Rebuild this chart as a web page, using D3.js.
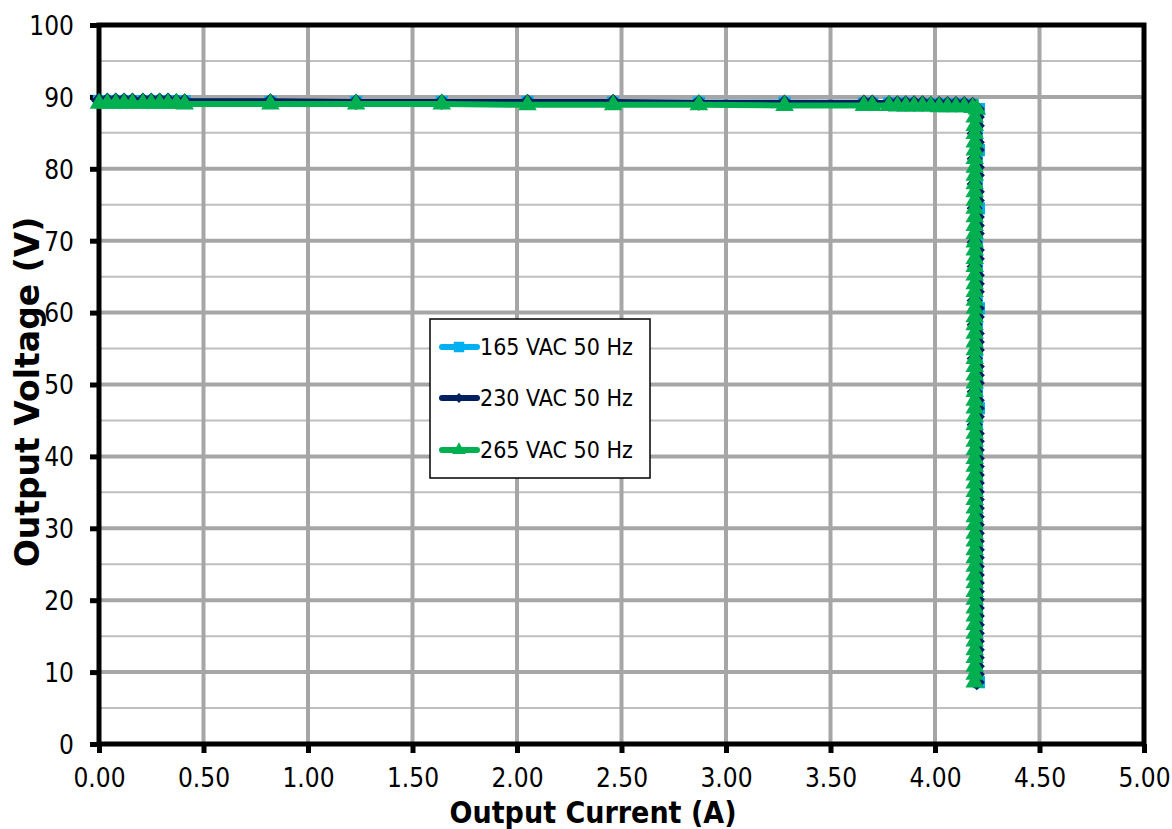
<!DOCTYPE html>
<html>
<head>
<meta charset="utf-8">
<script src="https://cdn.jsdelivr.net/npm/d3@7"></script>
<style>
  body { margin: 0; background: #fff; }
  svg { display: block; }
  text { font-family: "DejaVu Sans Condensed", "DejaVu Sans", sans-serif; fill: #000; }
</style>
</head>
<body>
<div id="chart"></div>
<script>
// Series names
var seriesNames = ["165 VAC 50 Hz", "230 VAC 50 Hz", "265 VAC 50 Hz"];

// horizontal (constant voltage) part: shared current steps (A)
var hCurrent = [0.00, 0.04, 0.08, 0.12, 0.16, 0.21, 0.25, 0.29, 0.33, 0.37, 0.41,
  0.82, 1.23, 1.64, 2.05, 2.46, 2.87, 3.28, 3.66, 3.70, 3.78, 3.82, 3.86, 3.90,
  3.94, 3.98, 4.02, 4.06, 4.10, 4.14, 4.18];

var hVolt165 = [89.4, 89.4, 89.4, 89.4, 89.4, 89.4, 89.4, 89.4, 89.4, 89.4, 89.4,
  89.3, 89.3, 89.3, 89.3, 89.2, 89.2, 89.2, 89.1, 89.1, 89.1, 89.1, 89.1, 89.0,
  89.0, 89.0, 89.0, 89.0, 89.0, 88.9, 88.9];
var hVolt230 = [89.5, 89.5, 89.5, 89.5, 89.5, 89.5, 89.5, 89.5, 89.5, 89.4, 89.4,
  89.4, 89.3, 89.3, 89.3, 89.3, 89.2, 89.2, 89.2, 89.2, 89.1, 89.1, 89.1, 89.1,
  89.1, 89.0, 89.0, 89.0, 89.0, 89.0, 88.9];
var hVolt265 = [89.1, 89.1, 89.1, 89.1, 89.1, 89.1, 89.1, 89.1, 89.1, 89.1, 89.0,
  89.0, 89.0, 89.0, 88.9, 88.9, 88.9, 88.8, 88.8, 88.8, 88.8, 88.7, 88.7, 88.7,
  88.7, 88.7, 88.6, 88.6, 88.6, 88.6, 88.5];

// vertical (constant current) part: shared voltage steps (V)
var vVolt = [88.3, 87.2, 86.0, 84.9, 83.7, 82.6, 81.4, 80.2, 79.1, 77.9,
  76.8, 75.6, 74.5, 73.3, 72.1, 71.0, 69.8, 68.7, 67.5, 66.4,
  65.2, 64.0, 62.9, 61.7, 60.6, 59.4, 58.3, 57.1, 55.9, 54.8,
  53.6, 52.5, 51.3, 50.2, 49.0, 47.8, 46.7, 45.5, 44.4, 43.2,
  42.1, 40.9, 39.7, 38.6, 37.4, 36.3, 35.1, 34.0, 32.8, 31.6,
  30.5, 29.3, 28.2, 27.0, 25.9, 24.7, 23.5, 22.4, 21.2, 20.1,
  18.9, 17.8, 16.6, 15.4, 14.3, 13.1, 12.0, 10.8, 9.7, 8.6];

var vCur165 = [4.21, 4.20, 4.20, 4.20, 4.20, 4.21, 4.20, 4.20, 4.20, 4.20,
  4.20, 4.20, 4.21, 4.20, 4.20, 4.20, 4.20, 4.20, 4.20, 4.20,
  4.20, 4.20, 4.20, 4.20, 4.21, 4.20, 4.20, 4.20, 4.20, 4.20,
  4.20, 4.20, 4.20, 4.20, 4.20, 4.20, 4.21, 4.20, 4.20, 4.20,
  4.20, 4.20, 4.20, 4.20, 4.20, 4.20, 4.20, 4.20, 4.20, 4.20,
  4.20, 4.20, 4.20, 4.20, 4.20, 4.20, 4.20, 4.20, 4.20, 4.20,
  4.20, 4.20, 4.20, 4.20, 4.20, 4.20, 4.20, 4.20, 4.20, 4.21];
var vCur230 = [4.20, 4.20, 4.20, 4.19, 4.20, 4.20, 4.19, 4.20, 4.20, 4.19,
  4.20, 4.20, 4.19, 4.20, 4.20, 4.20, 4.19, 4.20, 4.20, 4.19,
  4.20, 4.20, 4.20, 4.19, 4.20, 4.20, 4.19, 4.20, 4.20, 4.20,
  4.19, 4.20, 4.20, 4.20, 4.19, 4.20, 4.20, 4.20, 4.19, 4.20,
  4.20, 4.20, 4.20, 4.20, 4.20, 4.20, 4.20, 4.20, 4.20, 4.20,
  4.20, 4.20, 4.20, 4.20, 4.20, 4.20, 4.20, 4.20, 4.20, 4.20,
  4.20, 4.20, 4.20, 4.20, 4.20, 4.20, 4.20, 4.20, 4.20, 4.20];
var vCur265 = [4.20, 4.19, 4.19, 4.19, 4.19, 4.19, 4.19, 4.19, 4.19, 4.19,
  4.19, 4.19, 4.19, 4.19, 4.19, 4.19, 4.19, 4.19, 4.19, 4.19,
  4.19, 4.19, 4.19, 4.19, 4.19, 4.19, 4.19, 4.19, 4.19, 4.19,
  4.19, 4.19, 4.19, 4.19, 4.19, 4.19, 4.19, 4.19, 4.19, 4.19,
  4.19, 4.19, 4.19, 4.19, 4.19, 4.19, 4.19, 4.19, 4.19, 4.19,
  4.19, 4.19, 4.19, 4.19, 4.19, 4.19, 4.19, 4.19, 4.19, 4.19,
  4.19, 4.19, 4.19, 4.19, 4.19, 4.19, 4.19, 4.19, 4.19, 4.19];

// axis ticks
var xTicks = [0, 0.5, 1, 1.5, 2, 2.5, 3, 3.5, 4, 4.5, 5];
var yTicks = [0, 10, 20, 30, 40, 50, 60, 70, 80, 90, 100];
var yMinor = [5, 15, 25, 35, 45, 55, 65, 75, 85, 95];

var width = 1172;
var height = 829;

// plot area
var plotLeft = 99, plotRight = 1144, plotTop = 25, plotBottom = 744;

var svg = d3.select("#chart")
  .append("svg")
  .attr("width", width)
  .attr("height", height);

var xScale = d3.scaleLinear().domain([0, 5]).range([plotLeft, plotRight]);
var yScale = d3.scaleLinear().domain([0, 100]).range([plotBottom, plotTop]);

// Excel style diamond (square turned 45 degrees)
var squareDiamond = {
  draw: function (context, size) {
    var r = Math.sqrt(size / 2);
    context.moveTo(0, -r);
    context.lineTo(r, 0);
    context.lineTo(0, r);
    context.lineTo(-r, 0);
    context.closePath();
  }
};

// build point lists
function makePoints(hv, vc) {
  var pts = [];
  hCurrent.forEach(function (c, i) { pts.push({ x: c, y: hv[i] }); });
  vVolt.forEach(function (v, i) { pts.push({ x: vc[i], y: v }); });
  return pts;
}

var series = [
  { name: seriesNames[0], color: "#00b0f0", symbol: d3.symbolSquare, size: 150, legSize: 110, pts: makePoints(hVolt165, vCur165) },
  { name: seriesNames[1], color: "#002060", symbol: squareDiamond, size: 130, legSize: 50, pts: makePoints(hVolt230, vCur230) },
  { name: seriesNames[2], color: "#00b050", symbol: d3.symbolTriangle, size: 150, legSize: 80, pts: makePoints(hVolt265, vCur265) }
];

// gridlines
svg.append("g")
  .selectAll("line")
  .data(yMinor)
  .enter()
  .append("line")
  .attr("x1", plotLeft).attr("x2", plotRight)
  .attr("y1", function (d) { return yScale(d); })
  .attr("y2", function (d) { return yScale(d); })
  .attr("stroke", "#bfbfbf")
  .attr("stroke-width", 2);

svg.append("g")
  .selectAll("line")
  .data(yTicks)
  .enter()
  .append("line")
  .attr("x1", plotLeft).attr("x2", plotRight)
  .attr("y1", function (d) { return yScale(d); })
  .attr("y2", function (d) { return yScale(d); })
  .attr("stroke", "#a6a6a6")
  .attr("stroke-width", 4);

svg.append("g")
  .selectAll("line")
  .data(xTicks)
  .enter()
  .append("line")
  .attr("x1", function (d) { return xScale(d); })
  .attr("x2", function (d) { return xScale(d); })
  .attr("y1", plotTop).attr("y2", plotBottom)
  .attr("stroke", "#a6a6a6")
  .attr("stroke-width", 4);

// frame
svg.append("rect")
  .attr("x", plotLeft).attr("y", plotTop)
  .attr("width", plotRight - plotLeft).attr("height", plotBottom - plotTop)
  .attr("fill", "none")
  .attr("stroke", "#000")
  .attr("stroke-width", 5);

// axes
var xAxis = d3.axisBottom(xScale)
  .tickValues(xTicks)
  .tickSize(9)
  .tickPadding(16)
  .tickFormat(d3.format(".2f"));
var yAxis = d3.axisLeft(yScale)
  .tickValues(yTicks)
  .tickSize(9)
  .tickPadding(16)
  .tickFormat(d3.format("d"));

var gx = svg.append("g")
  .attr("class", "xAxis")
  .attr("transform", "translate(0," + plotBottom + ")")
  .call(xAxis);
var gy = svg.append("g")
  .attr("class", "yAxis")
  .attr("transform", "translate(" + plotLeft + ",0)")
  .call(yAxis);

[gx, gy].forEach(function (g) {
  g.select(".domain").remove();
  g.selectAll(".tick line").attr("stroke", "#000").attr("stroke-width", 5);
  g.selectAll(".tick text")
    .attr("font-size", 26)
    .style("font-family", "'DejaVu Sans Condensed', 'DejaVu Sans', sans-serif");
});
gy.selectAll(".tick text").attr("dy", "0.36em");

// series
var line = d3.line()
  .x(function (d) { return xScale(d.x); })
  .y(function (d) { return yScale(d.y); });

series.forEach(function (s) {
  var g = svg.append("g");
  g.append("path")
    .datum(s.pts)
    .attr("d", line)
    .attr("fill", "none")
    .attr("stroke", s.color)
    .attr("stroke-width", 6)
    .attr("stroke-linejoin", "round");
  g.selectAll("path.mark")
    .data(s.pts)
    .enter()
    .append("path")
    .attr("class", "mark")
    .attr("d", d3.symbol().type(s.symbol).size(s.size))
    .attr("transform", function (d) {
      return "translate(" + xScale(d.x) + "," + yScale(d.y) + ")";
    })
    .attr("fill", s.color);
});

// legend
var legend = svg.append("g");
legend.append("rect")
  .attr("x", 430).attr("y", 319)
  .attr("width", 220).attr("height", 159)
  .attr("fill", "#fff")
  .attr("stroke", "#000")
  .attr("stroke-width", 1.5);

var legY = [347, 398, 450];
series.forEach(function (s, i) {
  legend.append("line")
    .attr("x1", 442).attr("x2", 477)
    .attr("y1", legY[i]).attr("y2", legY[i])
    .attr("stroke", s.color)
    .attr("stroke-width", 6)
    .attr("stroke-linecap", "round");
  legend.append("path")
    .attr("d", d3.symbol().type(s.symbol).size(s.legSize))
    .attr("transform", "translate(459," + legY[i] + ")")
    .attr("fill", s.color);
  legend.append("text")
    .attr("x", 480)
    .attr("y", legY[i])
    .attr("dy", "0.36em")
    .attr("font-size", 23)
    .text(s.name);
});

// axis titles
svg.append("text")
  .attr("x", 593)
  .attr("y", 823)
  .attr("text-anchor", "middle")
  .attr("font-size", 30)
  .attr("font-weight", "bold")
  .text("Output Current (A)");

svg.append("text")
  .attr("transform", "translate(39,392) rotate(-90)")
  .attr("text-anchor", "middle")
  .attr("font-size", 33)
  .attr("font-weight", "bold")
  .style("font-family", "'DejaVu Sans', sans-serif")
  .text("Output Voltage (V)");
</script>
</body>
</html>
